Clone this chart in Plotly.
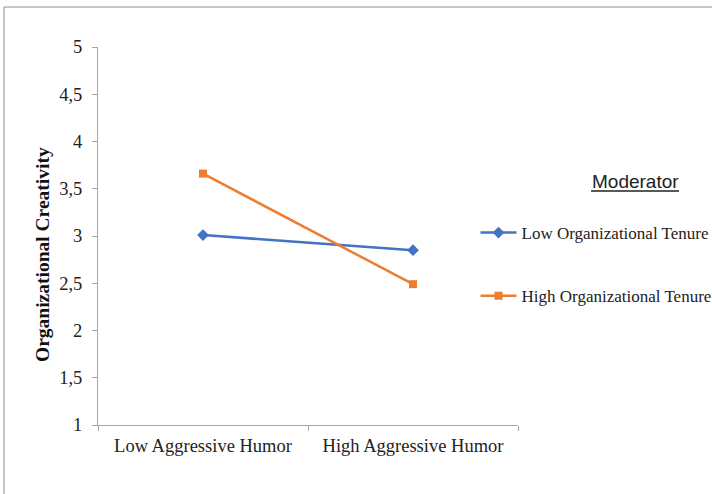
import plotly.graph_objects as go

categories = ["Low Aggressive Humor", "High Aggressive Humor"]
low_tenure = [3.01, 2.85]
high_tenure = [3.66, 2.49]
series_names = ["Low Organizational Tenure", "High Organizational Tenure"]
y_ticks = [1, 1.5, 2, 2.5, 3, 3.5, 4, 4.5, 5]

W, H = 712, 494
PL, PT, PR, PB = 98, 47, 518, 425  # plot area in pixels
pw = PR - PL
ph = PB - PT
L, T = PL, PT
R = W - L - pw
B = H - T - ph

def px_x(p):
    return (p - PL) / pw

def px_y(p):
    return (PB - p) / ph

fig = go.Figure()
fig.add_trace(go.Scatter(
    x=categories, y=low_tenure, name=series_names[0], mode="lines+markers",
    line=dict(color="#4472C4", width=2.5),
    marker=dict(symbol="diamond", size=9, color="#4472C4"),
    legendgroup="a",
))
fig.add_trace(go.Scatter(
    x=categories, y=high_tenure, name=series_names[1], mode="lines+markers",
    line=dict(color="#ED7D31", width=2.5),
    marker=dict(symbol="square", size=8, color="#ED7D31"),
    legendgroup="b",
))

serif = "Liberation Serif, Times New Roman, serif"

fig.update_layout(
    width=W, height=H,
    margin=dict(l=L, r=R, t=T, b=B, autoexpand=False),
    paper_bgcolor="white", plot_bgcolor="white",
    separators=",.",
    font=dict(family=serif, size=18, color="#222"),
    xaxis=dict(
        type="category", range=[-0.5, 1.5],
        showline=True, linecolor="#a6a6a6", linewidth=1,
        ticks="outside", ticklen=5, tickcolor="#a6a6a6", tickson="boundaries",
        showgrid=False, zeroline=False, ticklabelstandoff=4,
        tickfont=dict(family=serif, size=18.5, color="#222"),
    ),
    yaxis=dict(
        range=[1, 5], tickvals=y_ticks,
        showline=True, linecolor="#a6a6a6", linewidth=1,
        ticks="outside", ticklen=5, tickcolor="#a6a6a6",
        showgrid=False, zeroline=False, ticklabelstandoff=6,
        tickfont=dict(family=serif, size=18.5, color="#222"),
    ),
    legend=dict(
        x=px_x(475.5), y=px_y(215), xanchor="left", yanchor="top",
        traceorder="grouped", tracegroupgap=38, itemwidth=36,
        font=dict(family=serif, size=17, color="#222"),
        bgcolor="rgba(0,0,0,0)",
    ),
    showlegend=True,
)

# y-axis title
fig.add_annotation(
    x=px_x(42), y=px_y(255), xref="paper", yref="paper",
    text="<b>Organizational Creativity</b>", showarrow=False, textangle=-90,
    font=dict(family=serif, size=19.5, color="#111"),
    xanchor="center", yanchor="middle",
)

fig.add_annotation(
    x=px_x(635), y=px_y(181), xref="paper", yref="paper",
    text="Moderator", showarrow=False,
    font=dict(family="Liberation Sans, Arial, sans-serif", size=19, color="#222"),
    xanchor="center", yanchor="middle",
)
fig.add_shape(type="line", xref="paper", yref="paper",
              x0=px_x(591), x1=px_x(679), y0=px_y(191), y1=px_y(191),
              line=dict(color="#222", width=1.3))

fig.add_shape(type="rect", xref="paper", yref="paper",
              x0=px_x(4), x1=px_x(760), y0=px_y(540), y1=px_y(7),
              line=dict(color="#8c8c8c", width=1), layer="below")

fig.write_html("out.html",
               config={"displayModeBar": False},
               post_script="document.body.style.margin='0';document.body.style.overflow='hidden';")
